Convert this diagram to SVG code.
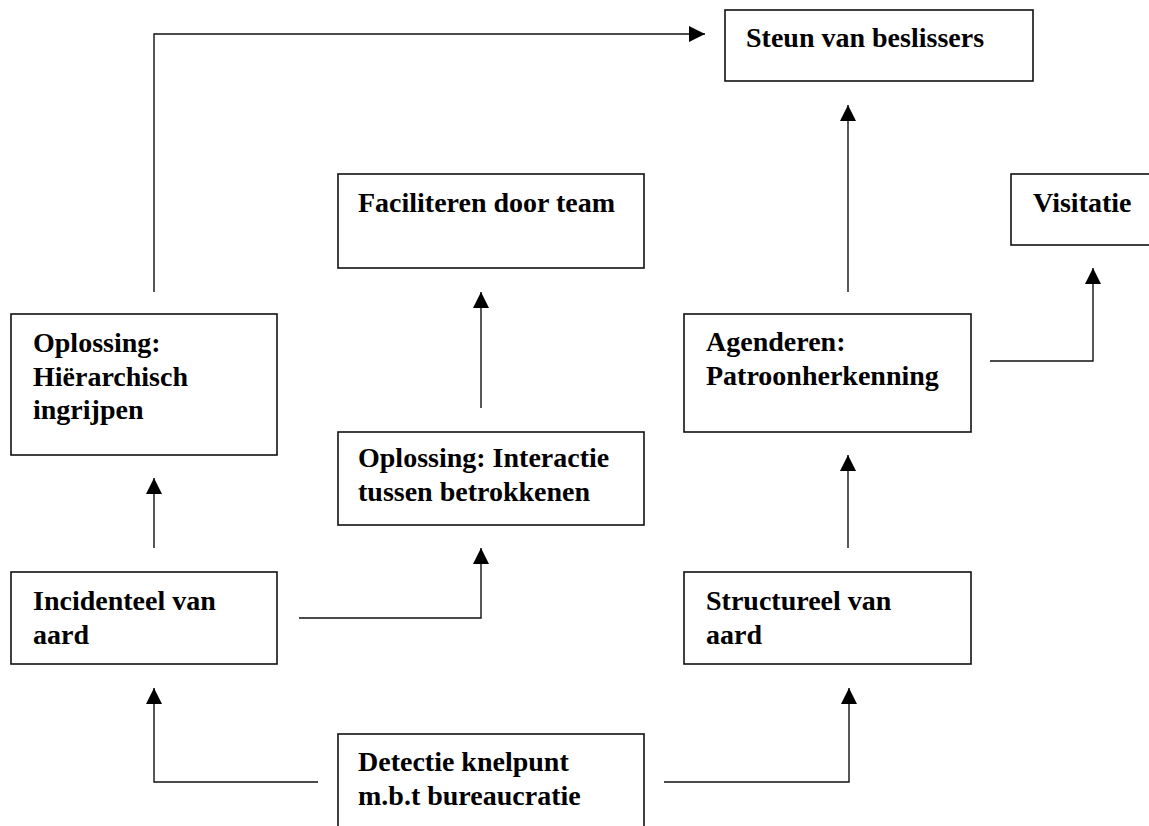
<svg xmlns="http://www.w3.org/2000/svg" width="1149" height="826" viewBox="0 0 1149 826">
<style>
.box{fill:#fff;stroke:#111;stroke-width:1.6}
.t{font-family:"Liberation Serif","Times New Roman",serif;font-weight:bold;font-size:28px;fill:#000}
.c{fill:none;stroke:#111;stroke-width:1.4}
</style>
<defs>
<marker id="ah" viewBox="0 0 16 16" refX="16" refY="8" markerWidth="16" markerHeight="16" markerUnits="userSpaceOnUse" orient="auto">
<path d="M0,0 L16,8 L0,16 Z" fill="#000"/>
</marker>
</defs>
<rect width="1149" height="826" fill="#fff"/>
<g id="connectors">
<path class="c" d="M154,292 V34 H705" marker-end="url(#ah)"/>
<path class="c" d="M848,292 V105" marker-end="url(#ah)"/>
<path class="c" d="M481,408 V292" marker-end="url(#ah)"/>
<path class="c" d="M990,361 H1093 V268" marker-end="url(#ah)"/>
<path class="c" d="M154,548 V478" marker-end="url(#ah)"/>
<path class="c" d="M848,548 V455" marker-end="url(#ah)"/>
<path class="c" d="M299,618 H481 V548" marker-end="url(#ah)"/>
<path class="c" d="M318,782 H154 V688" marker-end="url(#ah)"/>
<path class="c" d="M664,782 H849 V688" marker-end="url(#ah)"/>
</g>
<g id="steun"><rect class="box" x="725" y="10" width="308" height="71"/><text class="t" x="746" y="47">Steun van beslissers</text></g>
<g id="faciliteren"><rect class="box" x="338" y="174" width="306" height="94"/><text class="t" x="358" y="212">Faciliteren door team</text></g>
<g id="visitatie"><rect class="box" x="1011" y="174" width="150" height="71"/><text class="t" x="1033" y="212">Visitatie</text></g>
<g id="hierarchisch"><rect class="box" x="11" y="314" width="266" height="141"/><text class="t" x="33" y="352">Oplossing:</text><text class="t" x="33" y="386">Hiërarchisch</text><text class="t" x="33" y="419">ingrijpen</text></g>
<g id="agenderen"><rect class="box" x="684" y="314" width="287" height="118"/><text class="t" x="706" y="351">Agenderen:</text><text class="t" x="706" y="385">Patroonherkenning</text></g>
<g id="interactie"><rect class="box" x="338" y="432" width="306" height="93"/><text class="t" x="358" y="467">Oplossing: Interactie</text><text class="t" x="358" y="501">tussen betrokkenen</text></g>
<g id="incidenteel"><rect class="box" x="11" y="572" width="266" height="92"/><text class="t" x="33" y="610">Incidenteel van</text><text class="t" x="33" y="644">aard</text></g>
<g id="structureel"><rect class="box" x="684" y="572" width="287" height="92"/><text class="t" x="706" y="610">Structureel van</text><text class="t" x="706" y="644">aard</text></g>
<g id="detectie"><rect class="box" x="338" y="734" width="306" height="110"/><text class="t" x="358" y="771">Detectie knelpunt</text><text class="t" x="358" y="805">m.b.t bureaucratie</text></g>
</svg>
